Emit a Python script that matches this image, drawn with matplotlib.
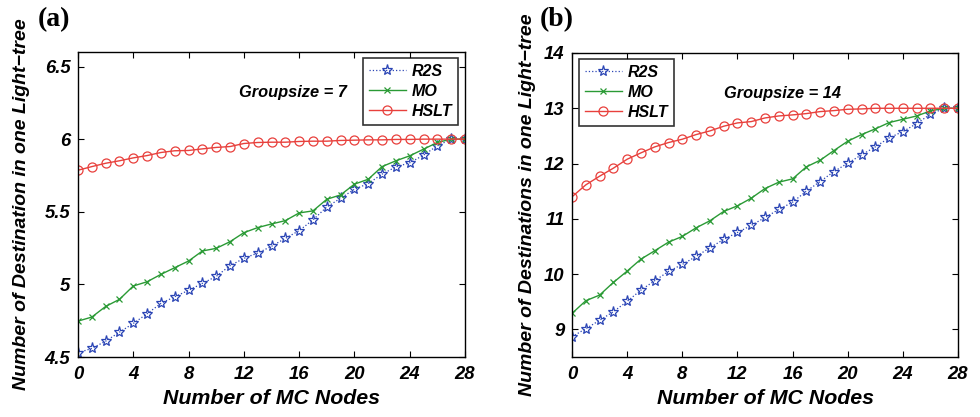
import matplotlib
matplotlib.use("Agg")
import matplotlib.pyplot as plt
import numpy as np

x_nodes = list(range(29))

r2s_a = [4.529, 4.559, 4.609, 4.671, 4.731, 4.798, 4.869, 4.915, 4.959, 5.007,
         5.055, 5.129, 5.179, 5.216, 5.262, 5.317, 5.370, 5.444, 5.533, 5.593,
         5.655, 5.694, 5.759, 5.809, 5.837, 5.890, 5.954, 6.0, 6.0]
mo_a = [4.747, 4.775, 4.848, 4.897, 4.989, 5.018, 5.069, 5.115, 5.161, 5.230,
        5.248, 5.294, 5.356, 5.391, 5.416, 5.439, 5.492, 5.506, 5.586, 5.616,
        5.690, 5.724, 5.811, 5.851, 5.885, 5.931, 5.977, 6.0, 6.0]
hslt_a = [5.786, 5.811, 5.834, 5.851, 5.871, 5.887, 5.908, 5.920, 5.922, 5.933,
          5.943, 5.949, 5.970, 5.977, 5.979, 5.979, 5.984, 5.986, 5.986, 5.991,
          5.993, 5.995, 5.995, 5.998, 5.998, 6.0, 6.0, 6.0, 6.0]

r2s_b = [8.867, 9.012, 9.163, 9.319, 9.506, 9.711, 9.880, 10.048, 10.175, 10.319,
         10.476, 10.627, 10.753, 10.880, 11.024, 11.169, 11.301, 11.500, 11.675, 11.855,
         12.006, 12.157, 12.301, 12.464, 12.578, 12.723, 12.892, 13.0, 13.0]
mo_b = [9.289, 9.518, 9.620, 9.849, 10.054, 10.271, 10.422, 10.578, 10.681, 10.837,
        10.964, 11.133, 11.235, 11.373, 11.548, 11.663, 11.723, 11.940, 12.060, 12.235,
        12.404, 12.524, 12.627, 12.741, 12.801, 12.861, 12.952, 13.0, 13.0]
hslt_b = [11.398, 11.614, 11.771, 11.916, 12.078, 12.193, 12.301, 12.380, 12.440, 12.524,
          12.590, 12.675, 12.735, 12.759, 12.825, 12.861, 12.880, 12.904, 12.940, 12.958,
          12.982, 12.988, 13.0, 13.0, 13.0, 13.0, 13.0, 13.0, 13.0]

series_names = ["R2S", "MO", "HSLT"]
xticks = [0, 4, 8, 12, 16, 20, 24, 28]
yticks_a = [4.5, 5, 5.5, 6, 6.5]
ytick_labels_a = ["4.5", "5", "5.5", "6", "6.5"]
yticks_b = [9, 10, 11, 12, 13, 14]
ytick_labels_b = ["9", "10", "11", "12", "13", "14"]

W, H = 980, 417
fig = plt.figure(figsize=(W / 100, H / 100), dpi=100)

FONT = "Liberation Sans"
tick_font = dict(family=FONT, weight="bold", style="italic", size=13.3)

BLUE = "#2b45b5"
GREEN = "#2a9a35"
RED = "#e8403c"


def fx(px):
    return px / W


def fy(py):
    return 1 - py / H


def make_panel(rect, r2s, mo, hslt, yticks, ylabels, ylim, legend_loc_bbox, note, note_xy,
               ylabel_text, ylabel_x, tag, tag_x):
    ax = fig.add_axes(rect)
    ax.plot(x_nodes, r2s, linestyle=":", color=BLUE, lw=0.9, marker="*",
            markersize=8, markerfacecolor="none", markeredgecolor=BLUE,
            markeredgewidth=0.9, label=series_names[0])
    ax.plot(x_nodes, mo, linestyle="-", color=GREEN, lw=1.0, marker="x",
            markersize=4.5, markeredgewidth=0.9, label=series_names[1])
    ax.plot(x_nodes, hslt, linestyle="-", color=RED, lw=1.0, marker="o",
            markersize=6.5, markerfacecolor="none", markeredgecolor=RED,
            markeredgewidth=0.9, label=series_names[2])
    ax.set_xlim(0, 28)
    ax.set_ylim(*ylim)
    ax.set_xticks(xticks)
    ax.set_xticklabels([str(t) for t in xticks], fontdict=tick_font)
    ax.set_yticks(yticks)
    ax.set_yticklabels(ylabels, fontdict=tick_font)
    ax.tick_params(direction="in", top=True, right=True, length=4, width=0.8,
                   colors="black")
    ax.tick_params(axis="x", pad=6.5)
    ax.tick_params(axis="y", pad=5.5)
    for sp in ax.spines.values():
        sp.set_linewidth(1.0)
    leg = ax.legend(loc="upper left", bbox_to_anchor=legend_loc_bbox,
                    prop=dict(family=FONT, weight="bold", style="italic", size=11.5),
                    frameon=True, fancybox=False, edgecolor="black",
                    handlelength=2.3, handletextpad=0.35, borderpad=0.38,
                    labelspacing=0.3, borderaxespad=0)
    leg.get_frame().set_linewidth(1.2)
    fig.text(fx(note_xy[0]), fy(note_xy[1]), note, ha="center", va="center",
             family=FONT, weight="bold", style="italic", size=11.8)
    fig.text(fx(ylabel_x), (rect[1] + rect[1] + rect[3]) / 2, ylabel_text,
             rotation=90, ha="center", va="center",
             family=FONT, weight="bold", style="italic", size=14)
    fig.text(rect[0] + rect[2] / 2, fy(399), "Number of MC Nodes",
             ha="center", va="center",
             family=FONT, weight="bold", style="italic", size=15.4)
    fig.text(fx(tag_x), fy(20), tag, ha="left", va="center",
             family="Liberation Serif", weight="bold", size=20)
    return ax


rect_a = [fx(78), fy(357), fx(465 - 78), (357 - 52) / H]
rect_b = [fx(572), fy(357), fx(958 - 572), (357 - 53) / H]


def bbox_for(rect, px, py):
    x0, y0, w, h = rect
    return ((fx(px) - x0) / w, (fy(py) - y0) / h)


make_panel(rect_a, r2s_a, mo_a, hslt_a, yticks_a, ytick_labels_a, (4.5, 6.6),
           bbox_for(rect_a, 363, 58), "Groupsize = 7", (293, 92),
           "Number of Destination in one Light\u2212tree", 22, "(a)", 38)
make_panel(rect_b, r2s_b, mo_b, hslt_b, yticks_b, ytick_labels_b, (8.5, 14),
           bbox_for(rect_b, 579, 59), "Groupsize = 14", (782, 94),
           "Number of Destinations in one Light\u2212tree", 527, "(b)", 540)

fig.savefig("out.png", dpi=100)
